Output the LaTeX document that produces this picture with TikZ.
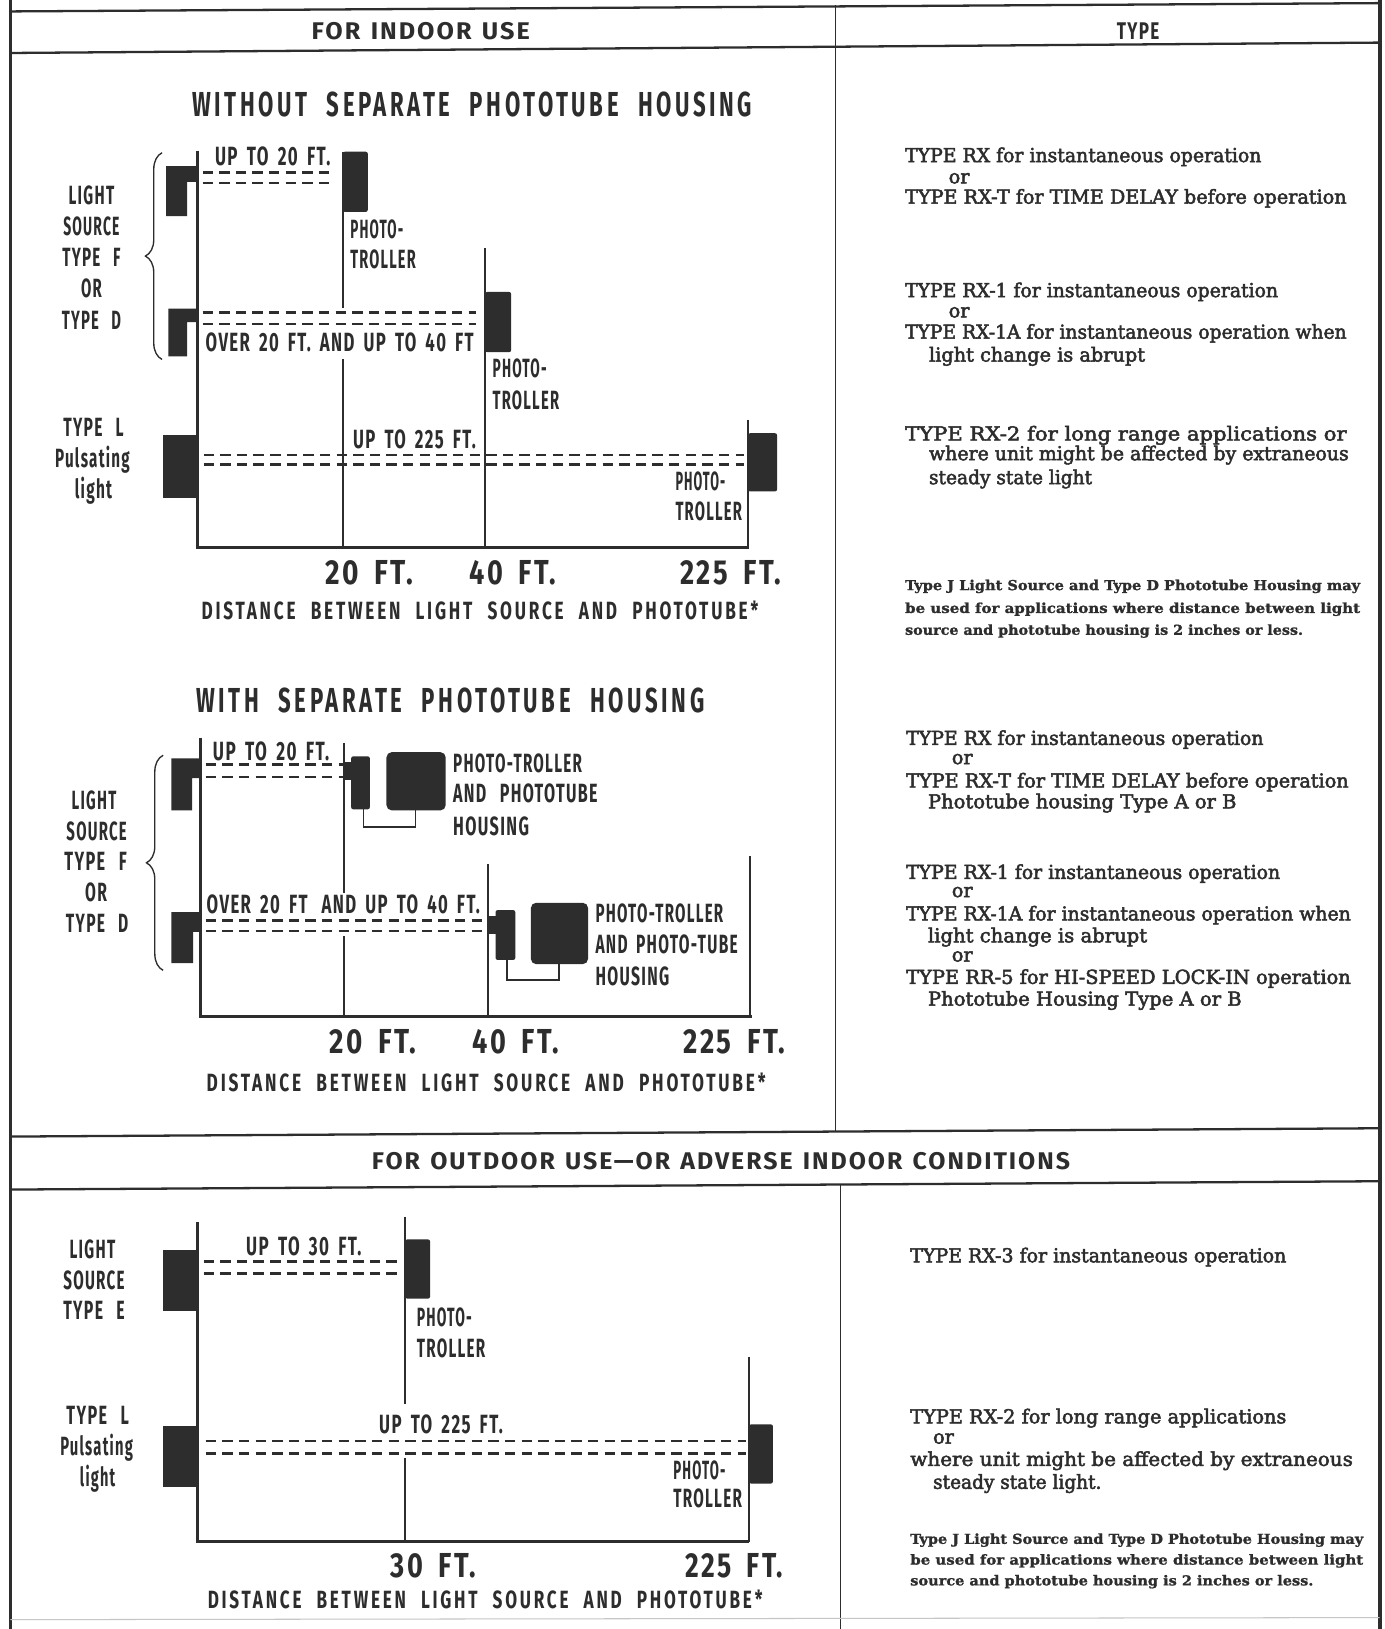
\documentclass[tikz,border=0pt]{standalone}
\usepackage{fontspec}
\usepackage{graphicx}
\usetikzlibrary{decorations.pathreplacing}
\newfontfamily\cnd[FakeStretch=0.6,LetterSpace=5,WordSpace=1.7]{Fira Sans}
\newfontfamily\cndw[FakeStretch=0.68,LetterSpace=11,WordSpace=2.2]{Fira Sans}
\newfontfamily\cndn[FakeStretch=0.72,LetterSpace=6,WordSpace=1.8]{Fira Sans}
\newfontfamily\hdf[LetterSpace=8,WordSpace=1.3]{Fira Sans}
\newfontfamily\slab[FakeBold=2.6]{DejaVu Serif}
\newfontfamily\slabn[FakeBold=1.2]{DejaVu Serif}
\definecolor{ink}{HTML}{2D2D2D}
% squeeze or stretch a text to a given width, keeping its height
\newcommand{\fitw}[2]{\resizebox{#1pt}{\height}{#2}}
% centred text on a baseline / left-aligned text on a baseline
\newcommand{\tc}[6]{\node[#1,anchor=base] (#2) at (#3,#4) {\fitw{#5}{#6}};}
\newcommand{\tw}[6]{\node[#1,anchor=base west] (#2) at (#3,#4) {\fitw{#5}{#6}};}
\tikzset{
  frm/.style={draw=ink,line width=2.2pt},
  axisln/.style={draw=ink,line width=3pt,line join=miter},
  post/.style={draw=ink,line width=2.4pt},
  beam/.style={draw=ink,line width=2.5pt,dash pattern=on 10pt off 6pt},
  blk/.style={fill=ink,draw=none},
  box/.style={fill=ink,draw=none,rounded corners=2pt},
  housing/.style={fill=ink,draw=none,rounded corners=5pt},
  cable/.style={draw=ink,line width=1.6pt},
  brc/.style={draw=ink,line width=1.3pt,decorate,decoration={brace,amplitude=16pt}},
  lab/.style={inner sep=0pt,text=ink,font=\cnd\bfseries\fontsize{25.4}{30}\selectfont},
  ttl/.style={inner sep=0pt,text=ink,font=\cndw\bfseries\fontsize{33.4}{40}\selectfont},
  num/.style={inner sep=0pt,text=ink,font=\cndn\bfseries\fontsize{33.4}{40}\selectfont},
  dst/.style={inner sep=0pt,text=ink,font=\cndw\bfseries\fontsize{24}{28}\selectfont},
  hdr/.style={inner sep=0pt,text=ink,font=\hdf\bfseries\fontsize{23.2}{28}\selectfont},
  srf/.style={inner sep=0pt,text=ink,font=\slab\fontsize{18.5}{22}\selectfont},
  nte/.style={inner sep=0pt,text=ink,font=\slabn\bfseries\fontsize{13.2}{16}\selectfont},
}
\begin{document}
\begin{tikzpicture}[x=1pt,y=-1pt]
\useasboundingbox[fill=white] (0,0) rectangle (1333,1568);

% ---------------- table frame ----------------
\draw[frm] (10,0) -- (10,1568);
\draw[draw=ink,line width=4pt] (1328,0) -- (1328,1568);
\draw[frm] (10,11) -- (1328,3);
\draw[frm] (10,51) -- (1328,41);
\draw[draw=ink,line width=1.3pt] (804,5) -- (804,1090);
\draw[frm] (10,1094) -- (1328,1086);
\draw[frm] (10,1145) -- (1328,1137);
\draw[draw=ink,line width=1.3pt] (809,1141) -- (809,1568);
\draw[draw=gray!45,line width=1pt] (10,1559) -- (1328,1557);

\tc{hdr}{hIndoor}{405}{38}{210}{FOR INDOOR USE}
\tc{hdr}{hType}{1095.5}{38}{41}{TYPE}
\tc{hdr}{hOutdoor}{694}{1125.5}{672}{FOR OUTDOOR USE—OR ADVERSE INDOOR CONDITIONS}

% ---------------- chart 1: without separate housing ----------------
\tc{ttl}{title1}{454.5}{112.5}{539}{WITHOUT SEPARATE PHOTOTUBE HOUSING}

\draw[axisln] (190,145) -- (190,527) -- (721,527);
\draw[post] (330,146) -- (330,296);
\draw[post] (330,346) -- (330,527);
\draw[post] (467,239) -- (467,527);
\draw[post] (720,404) -- (720,527);

\fill[blk] (160,160) -- (190,160) -- (190,175) -- (180,175) -- (180,208) -- (160,208) -- cycle;
\fill[blk] (162,297) -- (190,297) -- (190,310) -- (180,310) -- (180,343) -- (162,343) -- cycle;
\fill[blk] (157,419) rectangle (190,479);
\fill[box] (330,146) rectangle (354,204);
\fill[box] (467,281) rectangle (492,339);
\fill[box] (720,417) rectangle (748,473);

\draw[beam] (195,166) -- (322,166);
\draw[beam] (195,176) -- (322,176);
\draw[beam] (195,301) -- (458,301);
\draw[beam] (195,312) -- (458,312);
\draw[beam] (196,438) -- (716,438);
\draw[beam] (196,447) -- (716,447);

\draw[brc] (156,346) -- (156,147);

\tc{lab}{a1}{88}{196.75}{44}{LIGHT}
\tc{lab}{a2}{88}{226.75}{54}{SOURCE}
\tc{lab}{a3}{88}{256.75}{56}{TYPE\enspace F}
\tc{lab}{a4}{88}{286.75}{20}{OR}
\tc{lab}{a5}{88}{316.75}{57}{TYPE\enspace D}
\tc{lab}{a6}{90}{419.75}{58}{TYPE\enspace L}
\tc{lab}{a7}{89}{449.75}{72}{Pulsating}
\tc{lab}{a8}{90}{479.75}{36}{light}

\tc{lab}{a9}{262.5}{159.75}{111}{UP TO 20 FT.}
\tc{lab}{a10}{327}{338.75}{258}{OVER 20 FT. AND UP TO 40 FT}
\tc{lab}{a11}{399}{431.75}{118}{UP TO 225 FT.}
\tw{lab}{a12}{337}{229.75}{51}{PHOTO-}
\tw{lab}{a13}{337}{258.75}{63}{TROLLER}
\tw{lab}{a14}{474}{363.75}{52}{PHOTO-}
\tw{lab}{a15}{474}{393.75}{64}{TROLLER}
\tw{lab}{a16}{650}{471.75}{48}{PHOTO-}
\tw{lab}{a17}{650}{500.75}{64}{TROLLER}

\tc{num}{n1}{355.5}{562.5}{85}{20 FT.}
\tc{num}{n2}{493.5}{562.5}{83}{40 FT.}
\tc{num}{n3}{703.5}{562.5}{97}{225 FT.}
\tc{dst}{d1}{462}{596.25}{536}{DISTANCE BETWEEN LIGHT SOURCE AND PHOTOTUBE*}

% ---------------- chart 2: with separate housing ----------------
\tc{ttl}{title2}{433.5}{685.5}{489}{WITH SEPARATE PHOTOTUBE HOUSING}

\draw[axisln] (193,710) -- (193,978) -- (724,978);
\draw[post] (331,715) -- (331,860);
\draw[post] (331,901) -- (331,978);
\draw[post] (469.5,832) -- (469.5,978);
\draw[post] (722,824) -- (722,978);

\fill[blk] (165,730) -- (193,730) -- (193,749) -- (185,749) -- (185,780) -- (165,780) -- cycle;
\fill[blk] (165,878) -- (193,878) -- (193,897) -- (186,897) -- (186,927) -- (165,927) -- cycle;
\fill[blk] (331,733) rectangle (339,751);
\fill[box] (338,728) rectangle (356,779);
\fill[housing] (372,724) rectangle (429,780);
\draw[cable] (350,779) -- (350,796) -- (400,796) -- (400,780);
\fill[blk] (469.5,882) rectangle (478,899);
\fill[box] (477,876) rectangle (496,924);
\fill[housing] (511,869) rectangle (566,928);
\draw[cable] (488,924) -- (488,943) -- (538,943) -- (538,928);

\draw[beam] (198,736) -- (330,736);
\draw[beam] (198,748) -- (330,748);
\draw[beam] (198,886) -- (466,886);
\draw[beam] (198,896) -- (466,896);

\draw[brc] (157,934) -- (157,727);

\tc{lab}{b1}{90.5}{778.75}{43}{LIGHT}
\tc{lab}{b2}{93}{808.75}{58}{SOURCE}
\tc{lab}{b3}{92}{837.75}{60}{TYPE\enspace F}
\tc{lab}{b4}{92.5}{867.75}{21}{OR}
\tc{lab}{b5}{93.5}{897.75}{60}{TYPE\enspace D}

\tc{lab}{b6}{261}{731.75}{112}{UP TO 20 FT.}
\tc{lab}{b7}{330.5}{879.75}{263}{OVER 20 FT\enspace AND UP TO 40 FT.}
\tw{lab}{b8}{436}{743.75}{124}{PHOTO-TROLLER}
\tw{lab}{b9}{436}{772.75}{139}{AND\enspace PHOTOTUBE}
\tw{lab}{b10}{436}{803.75}{73}{HOUSING}
\tw{lab}{b11}{573}{887.75}{123}{PHOTO-TROLLER}
\tw{lab}{b12}{573}{917.75}{137}{AND PHOTO-TUBE}
\tw{lab}{b13}{573}{948.75}{71}{HOUSING}

\tc{num}{n4}{359}{1014.5}{84}{20 FT.}
\tc{num}{n5}{496.5}{1014.5}{83}{40 FT.}
\tc{num}{n6}{707}{1014.5}{98}{225 FT.}
\tc{dst}{d2}{468}{1050.25}{538}{DISTANCE BETWEEN LIGHT SOURCE AND PHOTOTUBE*}

% ---------------- chart 3: outdoor ----------------
\draw[axisln] (190,1176) -- (190,1484) -- (721,1484);
\draw[post] (390,1171) -- (390,1351);
\draw[post] (390,1403) -- (390,1484);
\draw[post] (721,1306) -- (721,1484);

\fill[blk] (157,1203) rectangle (190,1262);
\fill[blk] (157,1373) rectangle (190,1431);
\fill[box] (390,1193) rectangle (414,1250);
\fill[box] (721,1371) rectangle (744,1428);

\draw[beam] (196,1214) -- (386,1214);
\draw[beam] (196,1226) -- (386,1226);
\draw[beam] (198,1387) -- (718,1387);
\draw[beam] (198,1399) -- (718,1399);

\tc{lab}{c1}{89}{1211.75}{44}{LIGHT}
\tc{lab}{c2}{90.5}{1240.75}{59}{SOURCE}
\tc{lab}{c3}{90.5}{1269.75}{59}{TYPE\enspace E}
\tc{lab}{c4}{94}{1370.75}{60}{TYPE\enspace L}
\tc{lab}{c5}{93}{1400.75}{70}{Pulsating}
\tc{lab}{c6}{94}{1430.75}{34}{light}

\tc{lab}{c7}{292.5}{1208.75}{111}{UP TO 30 FT.}
\tw{lab}{c8}{401}{1276.75}{53}{PHOTO-}
\tw{lab}{c9}{401}{1306.75}{66}{TROLLER}
\tc{lab}{c10}{424.5}{1379.75}{119}{UP TO 225 FT.}
\tw{lab}{c11}{648}{1423.75}{50}{PHOTO-}
\tw{lab}{c12}{648}{1450.75}{66}{TROLLER}

\tc{num}{n7}{417}{1518.5}{82}{30 FT.}
\tc{num}{n8}{707}{1518.5}{94}{225 FT.}
\tc{dst}{d3}{467}{1548}{534}{DISTANCE BETWEEN LIGHT SOURCE AND PHOTOTUBE*}

% ---------------- type column ----------------
\tw{srf}{r1}{871}{156}{343}{TYPE RX for instantaneous operation}
\node[srf,anchor=base west] (r2) at (913,176.5) {or};
\tw{srf}{r3}{871}{196}{425}{TYPE RX-T for TIME DELAY before operation}
\tw{srf}{r4}{871}{286}{359}{TYPE RX-1 for instantaneous operation}
\node[srf,anchor=base west] (r5) at (913,305.5) {or};
\tw{srf}{r6}{871}{326}{425}{TYPE RX-1A for instantaneous operation when}
\tw{srf}{r7}{894}{348}{208}{light change is abrupt}
\tw{srf}{r8}{871}{424}{425}{TYPE RX-2 for long range applications or}
\tw{srf}{r9}{894}{443}{404}{where unit might be affected by extraneous}
\tw{srf}{r10}{894}{466}{157}{steady state light}
\tw{nte}{r11}{871}{568}{438}{Type J Light Source and Type D Phototube Housing may}
\tw{nte}{r12}{871}{590}{438}{be used for applications where distance between light}
\tw{nte}{r13}{871}{611}{383}{source and phototube housing is 2 inches or less.}

\tw{srf}{q1}{872}{717}{344}{TYPE RX for instantaneous operation}
\node[srf,anchor=base west] (q2) at (916,735.5) {or};
\tw{srf}{q3}{872}{758}{426}{TYPE RX-T for TIME DELAY before operation}
\tw{srf}{q4}{893}{778}{297}{Phototube housing Type A or B}
\tw{srf}{q5}{872}{846}{360}{TYPE RX-1 for instantaneous operation}
\node[srf,anchor=base west] (q6) at (916,863.5) {or};
\tw{srf}{q7}{872}{886}{428}{TYPE RX-1A for instantaneous operation when}
\tw{srf}{q8}{893}{907}{211}{light change is abrupt}
\node[srf,anchor=base west] (q9) at (916,925.5) {or};
\tw{srf}{q10}{872}{947}{428}{TYPE RR-5 for HI-SPEED LOCK-IN operation}
\tw{srf}{q11}{893}{968}{302}{Phototube Housing Type A or B}

\tw{srf}{u1}{876}{1215}{362}{TYPE RX-3 for instantaneous operation}
\tw{srf}{u2}{876}{1370}{362}{TYPE RX-2 for long range applications}
\node[srf,anchor=base west] (u3) at (898,1389.5) {or};
\tw{srf}{u4}{876}{1411}{426}{where unit might be affected by extraneous}
\tw{srf}{u5}{898}{1433}{162}{steady state light.}
\tw{nte}{u6}{876}{1486}{436}{Type J Light Source and Type D Phototube Housing may}
\tw{nte}{u7}{876}{1506}{436}{be used for applications where distance between light}
\tw{nte}{u8}{876}{1526}{388}{source and phototube housing is 2 inches or less.}
\end{tikzpicture}
\end{document}
